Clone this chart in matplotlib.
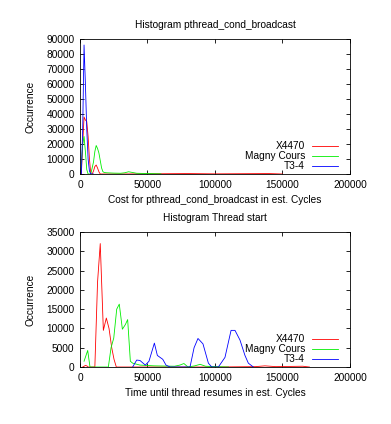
import matplotlib
matplotlib.use("Agg")
from matplotlib import pyplot as plt

plt.rcParams['font.family'] = ['Liberation Sans', 'DejaVu Sans']
plt.rcParams['font.size'] = 7.3

# --- top: pthread_cond_broadcast ---
bc_x4470_x = [0, 1000, 2000, 3000, 4000, 5000, 6000, 7000, 8000, 9000, 10000, 11000, 12000, 13000, 14000, 15000, 16000, 30000, 80000, 100000, 140000, 150000]
bc_x4470_y = [0, 0, 20000, 38000, 36000, 35000, 25000, 10000, 0, 0, 2000, 5000, 6000, 4000, 1500, 0, 0, 0, 300, 100, 300, 0]
bc_magny_x = [0, 1000, 2000, 3000, 4000, 5000, 6000, 8000, 10000, 11000, 12000, 13000, 14000, 15000, 16000, 17000, 18000, 20000, 25000, 30000, 33000, 36000, 39000, 42000, 50000, 60000]
bc_magny_y = [0, 5000, 20000, 25000, 15000, 3000, 0, 0, 8000, 15000, 19000, 17000, 14000, 9000, 4000, 1500, 1000, 800, 600, 500, 800, 1500, 1000, 500, 300, 100]
bc_t34_x = [0, 1000, 2000, 3000, 4000, 5000, 6000, 7000, 8000, 10000]
bc_t34_y = [0, 0, 30000, 86000, 60000, 30000, 10000, 2000, 0, 0]

# --- bottom: thread start ---
ts_x4470_x = [2000, 3000, 4000, 5000, 6000, 8000, 11000, 13000, 15000, 17300, 19500, 21500, 23500, 25200, 26900, 60000, 100000, 130000, 137000, 145000, 165000, 170000]
ts_x4470_y = [0, 200, 400, 300, 0, 0, 0, 22000, 32000, 9500, 12700, 10000, 5000, 2000, 0, 0, 0, 100, 300, 100, 200, 0]
ts_magny_x = [3000, 5700, 7400, 21000, 23000, 25000, 27200, 29100, 31400, 33600, 35300, 37300, 39000, 44400, 55000, 70000, 74000, 77000, 80000, 85000, 89000, 93000, 100000, 110000]
ts_magny_y = [1500, 4300, 0, 0, 5000, 7500, 15000, 16300, 9800, 11000, 12300, 1500, 1000, 500, 300, 200, 500, 900, 0, 300, 700, 200, 100, 0]
ts_t34_x = [39000, 42000, 44400, 48400, 51100, 55100, 57300, 61300, 63700, 66700, 81500, 84500, 87400, 91100, 95100, 97600, 102500, 107400, 111900, 114800, 118500, 122200, 124700, 128400]
ts_t34_y = [0, 1800, 1700, 500, 1500, 6200, 3000, 2000, 500, 0, 0, 5000, 7400, 6000, 1000, 0, 0, 2500, 9500, 9500, 7000, 3000, 1000, 0]

labels = ["X4470", "Magny Cours", "T3-4"]
colors = ["#ff0000", "#00ee00", "#0000ff"]
xticks = [0, 50000, 100000, 150000, 200000]

fig = plt.figure(figsize=(3.91, 4.24), dpi=100)
ax1 = fig.add_axes([0.2046, 0.5896, 0.6905, 0.3184])
ax2 = fig.add_axes([0.2046, 0.1344, 0.6905, 0.3184])


def setup(ax, title, xlabel, ymax, ystep, series):
    for (xs, ys), c in zip(series, colors):
        ax.plot(xs, ys, color=c, lw=0.6)
    ax.set_xlim(0, 200000)
    ax.set_ylim(0, ymax)
    ax.set_xticks(xticks)
    ax.set_yticks(list(range(0, ymax + 1, ystep)))
    ax.tick_params(direction="in", length=3, width=0.6, top=True, right=True, pad=4)
    for s in ax.spines.values():
        s.set_linewidth(0.6)
    ax.set_title(title, fontsize=7.3, pad=8)
    ax.set_xlabel(xlabel, labelpad=4)
    ax.set_ylabel("Occurrence", labelpad=8)
    # legend like gnuplot: text right aligned, sample after it
    for i, (lab, c) in enumerate(zip(labels, colors)):
        y = 0.207 - i * 0.074
        ax.text(0.833, y, lab, ha="right", va="center", transform=ax.transAxes)
        ax.plot([0.859, 0.956], [y, y], color=c, lw=0.6, transform=ax.transAxes)


setup(ax1, "Histogram pthread_cond_broadcast", "Cost for pthread_cond_broadcast in est. Cycles", 90000, 10000,
      [(bc_x4470_x, bc_x4470_y), (bc_magny_x, bc_magny_y), (bc_t34_x, bc_t34_y)])
setup(ax2, "Histogram Thread start", "Time until thread resumes in est. Cycles", 35000, 5000,
      [(ts_x4470_x, ts_x4470_y), (ts_magny_x, ts_magny_y), (ts_t34_x, ts_t34_y)])

fig.savefig("out.png", dpi=100)
